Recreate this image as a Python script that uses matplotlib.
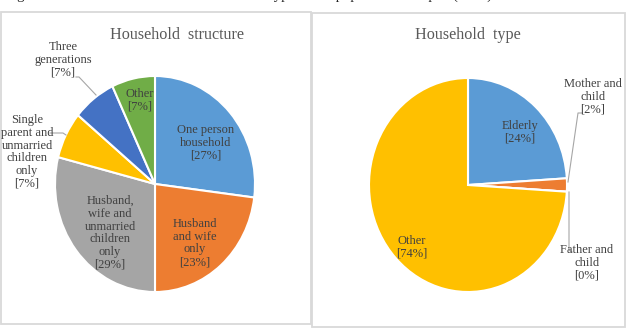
import matplotlib
matplotlib.use("Agg")
import matplotlib.pyplot as plt
from matplotlib.patches import Rectangle
from matplotlib.lines import Line2D

# household structure (left pie)
struct_names = ["One person\nhousehold", "Husband\nand wife\nonly",
                "Husband,\nwife and\nunmarried\nchildren\nonly",
                "Single\nparent and\nunmarried\nchildren\nonly",
                "Three\ngenerations", "Other"]
struct_vals = [27, 23, 29, 7, 7, 7]
struct_colors = ["#5B9BD5", "#ED7D31", "#A5A5A5", "#FFC000", "#4472C4", "#70AD47"]

# household type (right pie)
type_names = ["Elderly", "Mother and\nchild", "Father and\nchild", "Other"]
type_vals = [24, 2, 0, 74]
type_colors = ["#5B9BD5", "#ED7D31", "#A5A5A5", "#FFC000"]

W, H = 627, 330
fig = plt.figure(figsize=(W / 100, H / 100), dpi=100)
fig.patch.set_facecolor("white")

def fx(x):
    return x / W

def fy(y):
    return 1 - y / H

serif = "Liberation Serif"
txt_col = "#404040"

# panel frames
for (x0, y0, x1, y1) in [(1, 12, 311, 324), (312, 13, 625, 327)]:
    fig.patches.append(Rectangle((fx(x0), fy(y1)), fx(x1 - x0), (y1 - y0) / H,
                                 transform=fig.transFigure, fill=False,
                                 edgecolor="#D9D9D9", lw=1.3))

# caption cut off at the top of the image (only descenders show)
fig.text(fx(5), fy(-1.2), "Figure 2  Household structure and household type of the population in Japan (2015)",
         family=serif, fontsize=10.5, color="#222222", va="baseline")

def make_pie(cx, cy, rx, ry, vals, colors):
    ax = fig.add_axes([fx(cx - rx), fy(cy + ry), 2 * rx / W, 2 * ry / H])
    ax.pie(vals, colors=colors, startangle=90, counterclock=False,
           wedgeprops=dict(edgecolor="white", linewidth=1.5))
    ax.set_aspect("auto")
    ax.set_xlim(-1, 1)
    ax.set_ylim(-1, 1)
    ax.axis("off")
    return ax

make_pie(155, 184, 100, 108, struct_vals, struct_colors)
make_pie(468, 185, 99, 107, type_vals, type_colors)

def label(x, y, name, val):
    fig.text(fx(x), fy(y), f"{name}\n[{val}%]", family=serif, fontsize=9,
             color=txt_col, ha="center", va="center", linespacing=1.08)

# titles
fig.text(fx(177), fy(35), "Household  structure", family=serif, fontsize=11.6,
         color="#595959", ha="center", va="center")
fig.text(fx(468), fy(35), "Household  type", family=serif, fontsize=11.6,
         color="#595959", ha="center", va="center")

# left labels
lpos = [(206, 143), (195, 243), (110, 233), (27, 152), (63, 60), (140, 100)]
for (x, y), n, v in zip(lpos, struct_names, struct_vals):
    label(x, y, n, v)

# right labels
rpos = [(520, 132), (593, 97), (587, 263), (412, 247)]
for (x, y), n, v in zip(rpos, type_names, type_vals):
    label(x, y, n, v)

# leader lines
lead = "#A6A6A6"
for pts in [[(76, 77), (79, 77), (96, 95)],
            [(50, 133), (63, 133), (66, 135)],
            [(582, 113), (578, 113), (568, 182)],
            [(569, 192), (569, 250), (572, 252)]]:
    xs = [fx(p[0]) for p in pts]
    ys = [fy(p[1]) for p in pts]
    fig.lines.append(Line2D(xs, ys, transform=fig.transFigure, color=lead, lw=0.8))

fig.savefig("out.png", dpi=100, facecolor="white")
